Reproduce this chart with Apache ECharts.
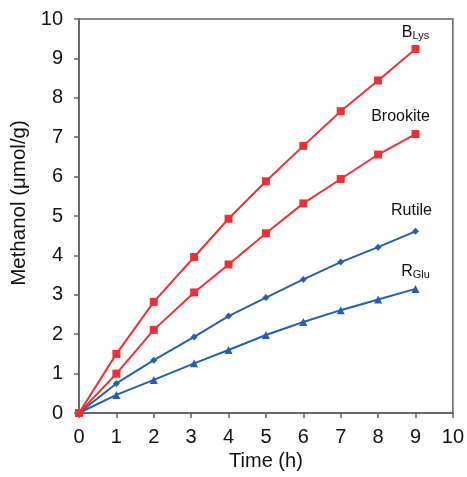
<!DOCTYPE html>
<html>
<head>
<meta charset="utf-8">
<script src="https://cdn.jsdelivr.net/npm/echarts@6/dist/echarts.min.js"></script>
<style>
  html, body { margin: 0; padding: 0; background: #fff; }
  #chart { width: 467px; height: 477px; }
</style>
</head>
<body>
<div id="chart"></div>
<script>
  // time points (h)
  const times = [0, 1, 2, 3.08, 4, 5, 6, 7, 8, 9];
  // methanol yield (umol/g)
  const bLys = [0, 1.50, 2.82, 3.96, 4.93, 5.88, 6.78, 7.66, 8.44, 9.24];
  const brookite = [0, 1.00, 2.11, 3.06, 3.77, 4.56, 5.32, 5.94, 6.56, 7.08];
  const rutile = [0, 0.75, 1.34, 1.93, 2.46, 2.93, 3.39, 3.83, 4.21, 4.61];
  const rGlu = [0, 0.46, 0.84, 1.26, 1.60, 1.98, 2.31, 2.61, 2.88, 3.15];

  const RED = '#ee3035';
  const BLUE = '#2460b0';
  const FONT = 'Liberation Sans, Arial, sans-serif';

  const chart = echarts.init(document.getElementById('chart'));

  const richLabel = {
    main: { fontSize: 16, fontFamily: FONT, color: '#111' },
    sub: { fontSize: 11, fontFamily: FONT, color: '#111', padding: [8, 0, 0, 0] },
  };

  // build [x, y] pairs, the last point carries the series label
  function makeData(values, label, offset) {
    return values.map((v, i) => {
      if (i !== values.length - 1) return [times[i], v];
      return {
        value: [times[i], v],
        label: {
          show: true,
          position: 'top',
          offset: offset,
          formatter: label,
          rich: richLabel,
        },
      };
    });
  }

  function lineSeries(name, values, color, symbol, size, label, offset) {
    return {
      name: name,
      type: 'line',
      data: makeData(values, label, offset),
      symbol: symbol,
      symbolSize: size,
      showAllSymbol: true,
      lineStyle: { color: color, width: 2 },
      itemStyle: { color: color },
      emphasis: { disabled: true },
      z: 2,
    };
  }

  const axisStyle = { lineStyle: { color: '#606060', width: 1.5 } };

  const option = {
    animation: false,
    grid: { left: 79, right: 11, top: 19, bottom: 64 },
    xAxis: {
      type: 'value',
      min: 0,
      max: 10,
      interval: 1,
      name: 'Time (h)',
      nameLocation: 'middle',
      nameGap: 35,
      nameTextStyle: { fontSize: 20, fontFamily: FONT, color: '#111' },
      axisLine: axisStyle,
      axisTick: { show: true, length: 5, lineStyle: { color: '#606060', width: 1.5 } },
      axisLabel: { fontSize: 20, fontFamily: FONT, color: '#111', margin: 14 },
      splitLine: { show: false },
    },
    yAxis: {
      type: 'value',
      min: 0,
      max: 10,
      interval: 1,
      name: 'Methanol (μmol/g)',
      nameLocation: 'middle',
      nameGap: 47,
      nameTextStyle: { fontSize: 20.5, fontFamily: FONT, color: '#111', padding: [0, 0, 0, 26] },
      axisLine: { show: true, lineStyle: { color: '#606060', width: 1.5 } },
      axisTick: { show: true, length: 5, lineStyle: { color: '#606060', width: 1.5 } },
      axisLabel: { fontSize: 20, fontFamily: FONT, color: '#111', margin: 16 },
      splitLine: { show: false },
    },
    graphic: [],
    series: [
      lineSeries('RGlu', rGlu, BLUE, 'triangle', 8, '{main|R}{sub|Glu}', [0, 1]),
      lineSeries('Rutile', rutile, BLUE, 'diamond', 7, '{main|Rutile}', [-4, -4]),
      lineSeries('Brookite', brookite, RED, 'rect', 8, '{main|Brookite}', [-15, 0]),
      lineSeries('BLys', bLys, RED, 'rect', 8, '{main|B}{sub|Lys}', [0, 2]),
    ],
  };

  chart.setOption(option);

  // box frame on the top and right edges, following the grid rectangle
  const rect = chart.getModel().getComponent('grid').coordinateSystem.getRect();
  chart.setOption({
    graphic: [{
      type: 'rect',
      shape: { x: rect.x, y: rect.y, width: rect.width, height: rect.height },
      style: { fill: 'none', stroke: '#606060', lineWidth: 1.5 },
      silent: true,
      z: 0,
    }],
  });
</script>
</body>
</html>
